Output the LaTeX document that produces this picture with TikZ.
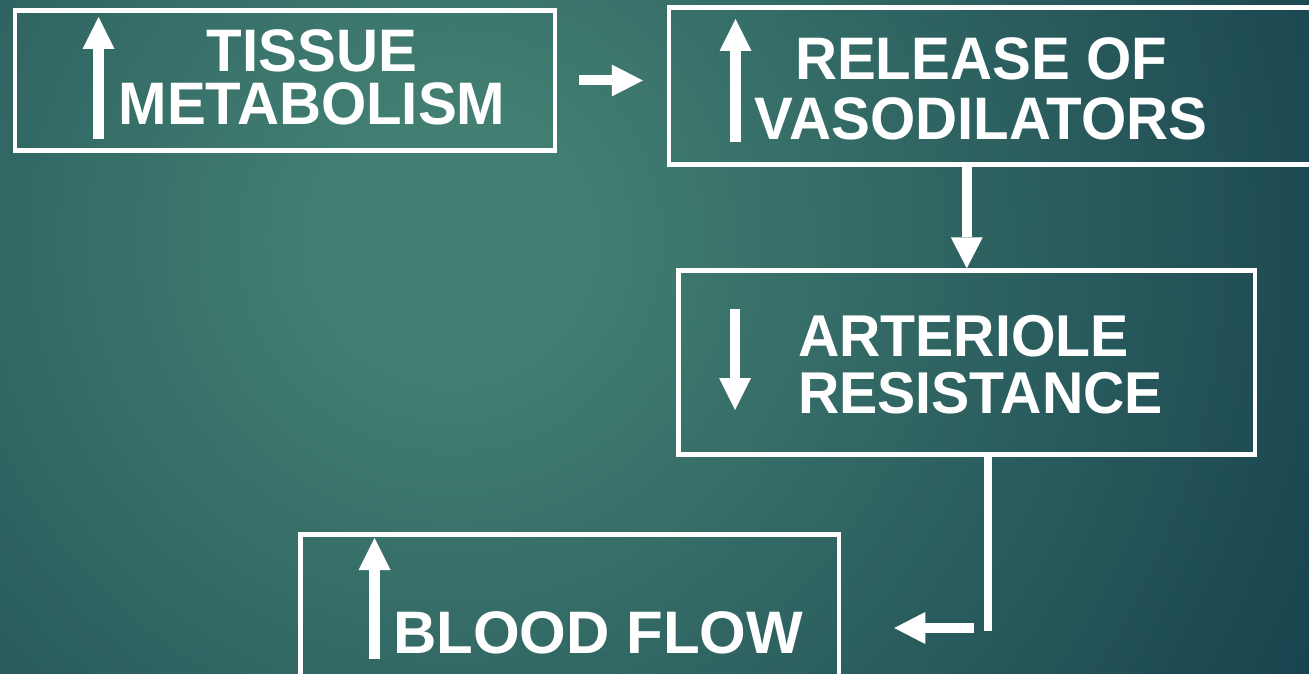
\documentclass[tikz,border=0pt]{standalone}
\usepackage{fontspec}
\setmainfont{Liberation Sans}
\newfontfamily\narrowfont[FakeStretch=0.97]{Liberation Sans}
\usetikzlibrary{arrows.meta}

\definecolor{bgcentre}{HTML}{427F72}
\definecolor{bgedge}{HTML}{163F4C}
\pgfdeclareradialshading{bgglow}{\pgfpoint{0bp}{0bp}}{%
  color(0bp)=(bgcentre); color(2bp)=(bgcentre); color(17bp)=(bgedge); color(50bp)=(bgedge)}

\tikzset{
  box/.style={draw=white, line width=4.5pt, inner sep=0pt},
  boxtext/.style={text=white, inner sep=0pt, align=center},
  flow/.style={draw=white, line width=10pt, -{Triangle[length=31pt,width=32pt,line width=0pt]}},
  level/.style={draw=white, line width=11pt, -{Triangle[length=32pt,width=32pt,line width=0pt]}},
  link/.style={draw=white, line width=8pt},
}

\begin{document}
\begin{tikzpicture}[x=1pt, y=-1pt]

    \useasboundingbox (0,0) rectangle (1309,674);
    \clip (0,0) rectangle (1309,674);
    \shade[shading=bgglow] (450,240) circle (1500pt);

    % boxes
    \node[box, minimum width=540pt, minimum height=140pt] (B1) at (285,80.5) {};
    \node[box, minimum width=651pt, minimum height=157pt] (B2) at (994.5,86) {};
    \node[box, minimum width=576.5pt, minimum height=184pt] (B3) at (966.75,362.5) {};
    \node[box, minimum width=538.5pt, minimum height=190pt] (B4) at (569.75,629.5) {};

    % texts
    \node[boxtext, font=\narrowfont\bfseries\fontsize{60}{53}\selectfont] (T1) at (312,77.5) {TISSUE\\METABOLISM};
    \node[boxtext, font=\narrowfont\bfseries\fontsize{60}{60}\selectfont] (T2) at (981,88.5) {RELEASE OF\\VASODILATORS};
    \node[boxtext, align=left, anchor=west, font=\narrowfont\bfseries\fontsize{59}{57}\selectfont] (T3) at (798,365) {ARTERIOLE\\RESISTANCE};
    \node[boxtext, anchor=base west, font=\bfseries\fontsize{60}{60}\selectfont] (T4) at (393,653) {BLOOD FLOW};

    % up and down signs
    \draw[level] (98.5,139) -- (98.5,17);
    \draw[level] (735.5,142) -- (735.5,19);
    \draw[level, line width=10pt] (735,309) -- (735,410);
    \draw[level] (374.5,659) -- (374.5,538);

    % connectors
    \draw[flow, shorten <=22pt, shorten >=24pt] (B1.east) -- (B1.east -| B2.west);
    \draw[flow] (B2.south -| B3.north) -- (B3.north);
    \coordinate (bend) at (988,631);
    \draw[link] (B3.south -| bend) -- (bend);
    \coordinate (tail) at (974,628);
    \draw[flow, shorten >=53pt] (tail) -- (B4.east |- tail);

\end{tikzpicture}
\end{document}
